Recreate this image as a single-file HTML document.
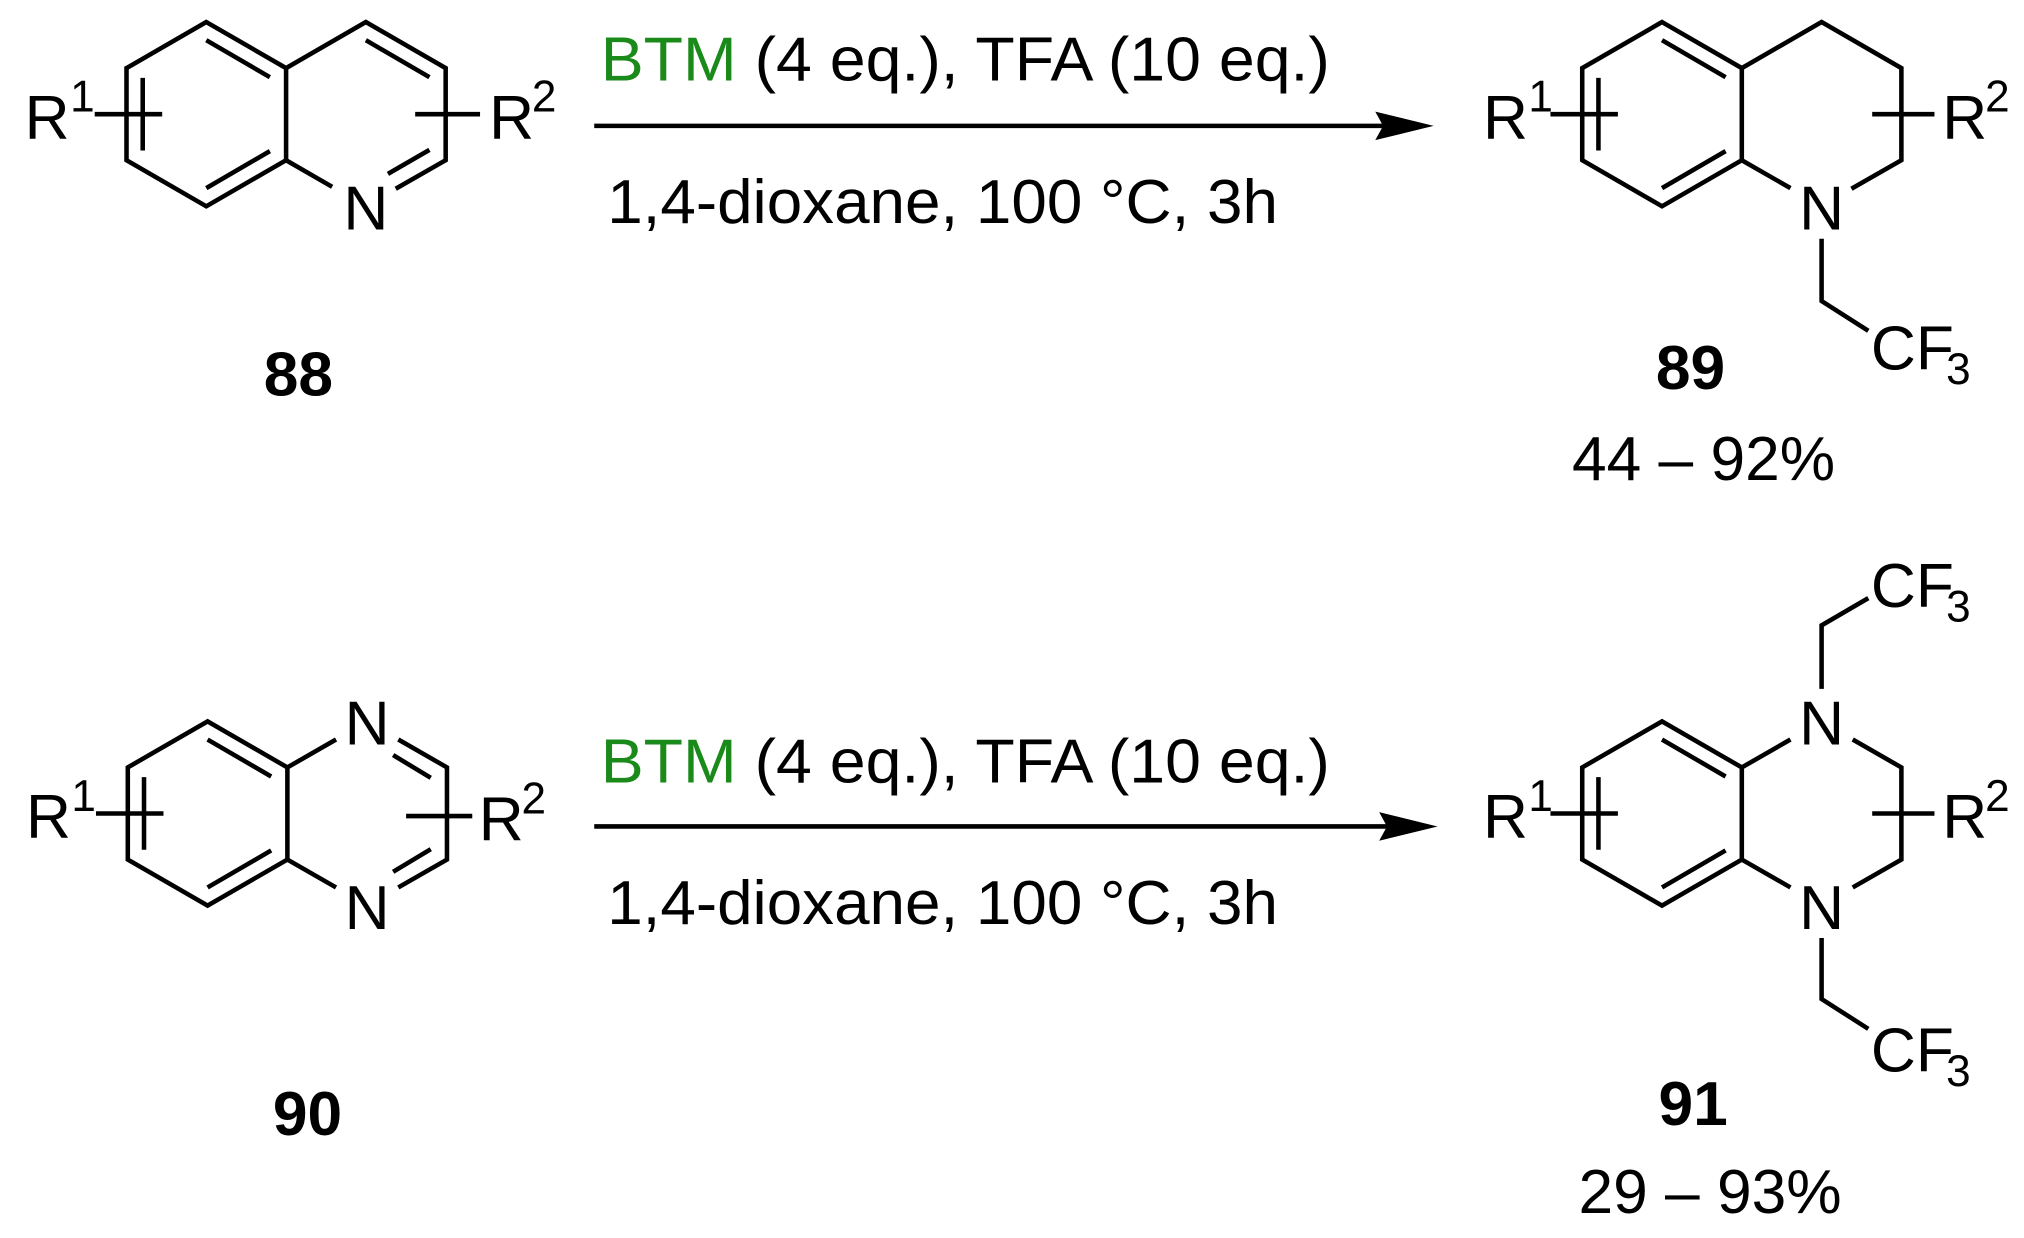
<!DOCTYPE html>
<html><head><meta charset="utf-8"><style>
html,body{margin:0;padding:0;background:#fff;}
svg{display:block;}
text{font-family:"Liberation Sans",Arial,sans-serif;fill:#000;}
</style></head><body>
<svg width="2024" height="1238" viewBox="0 0 1560 954.2" preserveAspectRatio="none" xmlns="http://www.w3.org/2000/svg">
<defs>
<g id="benz" fill="none" stroke="#000" stroke-width="3.5" stroke-linejoin="miter" stroke-linecap="butt">
<path d="M0,-71 L61.5,-35.5 L61.5,35.5 L0,71 L-61.5,35.5 L-61.5,-35.5 Z"/>
<path d="M-49,-28 L-49,28 M0,-57 L49,-28.5 M0,57 L49,28.5"/>
<path d="M-86,0 L-34,0"/>
</g>
</defs>

<!-- 88 -->
<g transform="translate(159,88)">
<use href="#benz"/>
<g fill="none" stroke="#000" stroke-width="3.5">
<path d="M61.5,-35.5 L123,-71 L184.5,-35.5 L184.5,35.5 L146,57.5"/>
<path d="M123,-57 L172,-28.5 M140,46 L172,27.5 M61.5,35.5 L97,56"/>
<path d="M161,0 L211,0"/>
</g>
<text x="-140" y="19" font-size="48">R</text><text x="-105" y="-2" font-size="34">1</text>
<text x="218" y="19" font-size="48">R</text><text x="251" y="-2" font-size="34">2</text>
<text x="123" y="89" font-size="48" text-anchor="middle">N</text>
</g>
<text x="230" y="305" font-size="48" font-weight="bold" text-anchor="middle">88</text>

<!-- arrow 1 -->
<g>
<line x1="458" y1="97" x2="1070" y2="97" stroke="#000" stroke-width="3.5"/>
<path d="M1105,97 L1060,86 L1066,97 L1060,108 Z" fill="#000"/>
<text x="463" y="62" font-size="48" textLength="562" lengthAdjust="spacingAndGlyphs"><tspan fill="#1a8a1a">BTM</tspan> (4 eq.), TFA (10 eq.)</text>
<text x="468" y="172" font-size="48" textLength="517" lengthAdjust="spacingAndGlyphs">1,4-dioxane, 100 °C, 3h</text>
</g>

<!-- 89 -->
<g transform="translate(1281,88)">
<use href="#benz"/>
<g fill="none" stroke="#000" stroke-width="3.5">
<path d="M61.5,-35.5 L123,-71 L184.5,-35.5 L184.5,35.5 L146,57.5"/>
<path d="M61.5,35.5 L99,57"/>
<path d="M162,0 L210,0"/>
<path d="M123,96 L123,144 L159,167"/>
</g>
<text x="-138" y="19" font-size="48">R</text><text x="-103" y="-2" font-size="34">1</text>
<text x="216" y="19" font-size="48">R</text><text x="249" y="-2" font-size="34">2</text>
<text x="123" y="89" font-size="48" text-anchor="middle">N</text>
<text x="161" y="197" font-size="48">CF</text><text x="219" y="208" font-size="34">3</text>
</g>
<text x="1303" y="300" font-size="48" font-weight="bold" text-anchor="middle">89</text>
<text x="1313" y="370" font-size="48" text-anchor="middle">44 – 92%</text>

<!-- 90 -->
<g transform="translate(160,627)">
<use href="#benz"/>
<g fill="none" stroke="#000" stroke-width="3.5">
<path d="M61.5,-35.5 L99,-57 M147,-57 L184.5,-35.5 L184.5,35.5 L147,57 M61.5,35.5 L99,57"/>
<path d="M143,-45 L172,-27.5 M143,45 L172,27.5"/>
<path d="M153,2 L204,2"/>
</g>
<text x="-140" y="19" font-size="48">R</text><text x="-105" y="-2" font-size="34">1</text>
<text x="209" y="21" font-size="48">R</text><text x="242" y="0" font-size="34">2</text>
<text x="123" y="-53" font-size="48" text-anchor="middle">N</text>
<text x="123" y="89" font-size="48" text-anchor="middle">N</text>
</g>
<text x="237" y="875" font-size="48" font-weight="bold" text-anchor="middle">90</text>

<!-- arrow 2 -->
<g>
<line x1="458" y1="637" x2="1073" y2="637" stroke="#000" stroke-width="3.5"/>
<path d="M1108,637 L1063,626 L1069,637 L1063,648 Z" fill="#000"/>
<text x="463" y="603" font-size="48" textLength="562" lengthAdjust="spacingAndGlyphs"><tspan fill="#1a8a1a">BTM</tspan> (4 eq.), TFA (10 eq.)</text>
<text x="468" y="712" font-size="48" textLength="517" lengthAdjust="spacingAndGlyphs">1,4-dioxane, 100 °C, 3h</text>
</g>

<!-- 91 -->
<g transform="translate(1281,627)">
<use href="#benz"/>
<g fill="none" stroke="#000" stroke-width="3.5">
<path d="M61.5,-35.5 L99,-57 M147,-57 L184.5,-35.5 L184.5,35.5 L147,57 M61.5,35.5 L99,57"/>
<path d="M162,0 L210,0"/>
<path d="M123,-96 L123,-145 L159,-166"/>
<path d="M123,96 L123,143 L159,166"/>
</g>
<text x="-138" y="19" font-size="48">R</text><text x="-103" y="-2" font-size="34">1</text>
<text x="216" y="19" font-size="48">R</text><text x="249" y="-2" font-size="34">2</text>
<text x="123" y="-53" font-size="48" text-anchor="middle">N</text>
<text x="123" y="89" font-size="48" text-anchor="middle">N</text>
<text x="161" y="-159" font-size="48">CF</text><text x="219" y="-148" font-size="34">3</text>
<text x="161" y="199" font-size="48">CF</text><text x="219" y="210" font-size="34">3</text>
</g>
<text x="1305" y="867" font-size="48" font-weight="bold" text-anchor="middle">91</text>
<text x="1318" y="935" font-size="48" text-anchor="middle">29 – 93%</text>
</svg>
</body></html>
